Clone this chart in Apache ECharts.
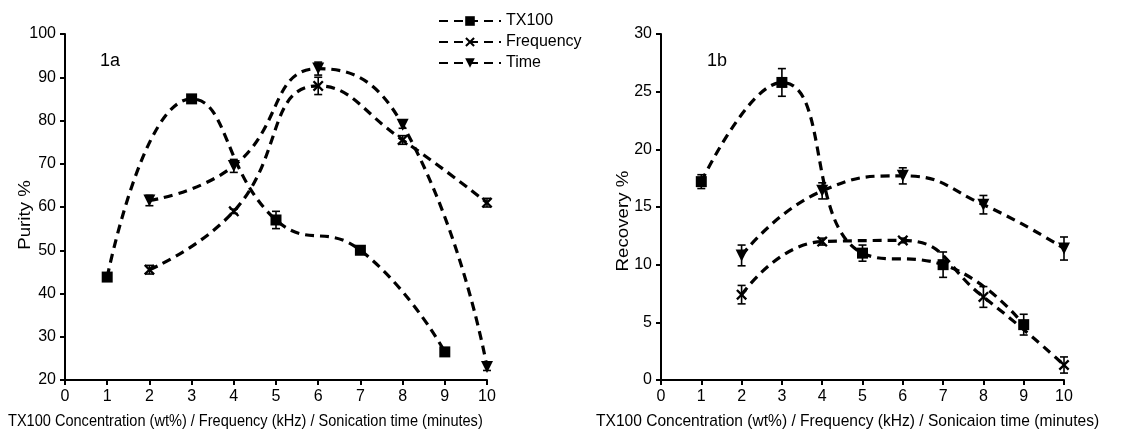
<!DOCTYPE html>
<html>
<head>
<meta charset="utf-8">
<script src="https://cdn.jsdelivr.net/npm/echarts@6/dist/echarts.min.js"></script>
<style>
  html, body { margin: 0; padding: 0; background: #fff; }
  #chart { width: 1129px; height: 431px; }
</style>
</head>
<body>
<div id="chart"></div>
<script>
// x positions: TX100 uses odd values, frequency/time use even values
var xTX100 = [1, 3, 5, 7, 9]
var xOther = [2, 4, 6, 8, 10]

// 1a purity %
var purityTX100 = [43.8, 85, 57, 50, 26.5]
var purityTX100Err = [0.8, 0.5, 2, 0.8, 0.5]
var purityFreq = [45.5, 59, 88, 75.5, 61]
var purityFreqErr = [1, 0.5, 2, 1, 1]
var purityTime = [61.5, 69.5, 92, 79, 23]
var purityTimeErr = [1.2, 1.5, 1.5, 0.8, 0.8]

// 1b recovery %
var recTX100 = [17.2, 25.8, 11, 10, 4.8]
var recTX100Err = [0.6, 1.2, 0.7, 1.1, 0.9]
var recFreq = [7.4, 12, 12.1, 7.2, 1.3]
var recFreqErr = [0.8, 0.3, 0.2, 0.9, 0.7]
var recTime = [10.8, 16.4, 17.7, 15.2, 11.4]
var recTimeErr = [0.9, 0.7, 0.7, 0.8, 1.0]

var seriesNames = ['TX100', 'Frequency', 'Time']

var font = 'Liberation Sans'
var xSymbol = 'path://M0,1.5 L1.5,0 L5,3.5 L8.5,0 L10,1.5 L6.5,5 L10,8.5 L8.5,10 L5,6.5 L1.5,10 L0,8.5 L3.5,5 Z'

function pairs(xs, ys) {
  return xs.map((x, i) => [x, ys[i]])
}

function errData(xs, ys, es) {
  return xs.map((x, i) => [x, ys[i] - es[i], ys[i] + es[i]])
}

function renderErr(params, api) {
  var x = api.value(0)
  var top = api.coord([x, api.value(2)])
  var bot = api.coord([x, api.value(1)])
  var w = 4
  var style = { stroke: '#000', lineWidth: 1.6 }
  return {
    type: 'group',
    children: [
      { type: 'line', shape: { x1: top[0], y1: top[1], x2: bot[0], y2: bot[1] }, style: style },
      { type: 'line', shape: { x1: top[0] - w, y1: top[1], x2: top[0] + w, y2: top[1] }, style: style },
      { type: 'line', shape: { x1: bot[0] - w, y1: bot[1], x2: bot[0] + w, y2: bot[1] }, style: style }
    ]
  }
}

var markers = {
  TX100: { symbol: 'rect', symbolSize: 11, symbolRotate: 0 },
  Frequency: { symbol: xSymbol, symbolSize: 11, symbolRotate: 0 },
  Time: { symbol: 'triangle', symbolSize: 12, symbolRotate: 180 }
}

function lineSeries(name, idx, xs, ys) {
  return {
    name: name,
    type: 'line',
    xAxisIndex: idx,
    yAxisIndex: idx,
    smooth: 0.5,
    data: pairs(xs, ys),
    symbol: markers[name].symbol,
    symbolSize: markers[name].symbolSize,
    symbolRotate: markers[name].symbolRotate,
    itemStyle: { color: '#000' },
    lineStyle: { color: '#000', width: 3.2, type: [9, 6] },
    z: 3
  }
}

function errSeries(idx, xs, ys, es) {
  return {
    type: 'custom',
    xAxisIndex: idx,
    yAxisIndex: idx,
    renderItem: renderErr,
    data: errData(xs, ys, es),
    silent: true,
    z: 4
  }
}

var axisLine = { show: true, lineStyle: { color: '#000', width: 2 } }
var axisTick = { show: true, length: 5, lineStyle: { color: '#000', width: 2 } }
var axisLabel = { color: '#000', fontFamily: font, fontSize: 16 }

function xAxis(idx) {
  return {
    type: 'value',
    gridIndex: idx,
    min: 0,
    max: 10,
    interval: 1,
    axisLine: axisLine,
    axisTick: axisTick,
    axisLabel: Object.assign({ margin: 9 }, axisLabel),
    splitLine: { show: false }
  }
}

function yAxis(idx, min, max, step) {
  return {
    type: 'value',
    gridIndex: idx,
    min: min,
    max: max,
    interval: step,
    axisLine: axisLine,
    axisTick: axisTick,
    axisLabel: Object.assign({ margin: 9 }, axisLabel),
    splitLine: { show: false }
  }
}

// axis titles and panel labels as plain text elements
function title(text, x, y, opts) {
  return Object.assign({
    type: 'text',
    x: x,
    y: y,
    silent: true,
    style: { text: text, fill: '#000', font: '17px "Liberation Sans"', align: 'left', verticalAlign: 'middle' }
  }, opts)
}

var chart = echarts.init(document.getElementById('chart'), null, { renderer: 'canvas' })

var option = {
  backgroundColor: '#fff',
  animation: false,
  grid: [
    { left: 65, top: 34, width: 422, height: 346, containLabel: false, outerBoundsMode: 'none' },
    { left: 661, top: 34, width: 403, height: 346, containLabel: false, outerBoundsMode: 'none' }
  ],
  legend: {
    orient: 'vertical',
    left: 433,
    top: 8,
    itemWidth: 62,
    itemHeight: 12,
    itemGap: 5,
    data: seriesNames,
    textStyle: { color: '#000', fontFamily: font, fontSize: 16 }
  },
  graphic: [
    title('1a', 100, 61, { style: { text: '1a', fill: '#000', font: '18px "Liberation Sans"', verticalAlign: 'middle' } }),
    title('1b', 707, 61, { style: { text: '1b', fill: '#000', font: '18px "Liberation Sans"', verticalAlign: 'middle' } }),
    title('TX100 Concentration (wt%) / Frequency (kHz) / Sonication time (minutes)', 8, 421, { scaleX: 0.856 }),
    title('TX100 Concentration (wt%) / Frequency (kHz) / Sonicaion time (minutes)', 596, 421, { scaleX: 0.915 }),
    title('Purity %', 25, 215, { rotation: Math.PI / 2, scaleX: 1.1,
      style: { text: 'Purity %', fill: '#000', font: '17px "Liberation Sans"', align: 'center', verticalAlign: 'middle' } }),
    title('Recovery %', 623, 221, { rotation: Math.PI / 2, scaleX: 1.1,
      style: { text: 'Recovery %', fill: '#000', font: '17px "Liberation Sans"', align: 'center', verticalAlign: 'middle' } })
  ],
  xAxis: [xAxis(0), xAxis(1)],
  yAxis: [yAxis(0, 20, 100, 10), yAxis(1, 0, 30, 5)],
  series: [
    lineSeries('TX100', 0, xTX100, purityTX100),
    lineSeries('Frequency', 0, xOther, purityFreq),
    lineSeries('Time', 0, xOther, purityTime),
    errSeries(0, xTX100, purityTX100, purityTX100Err),
    errSeries(0, xOther, purityFreq, purityFreqErr),
    errSeries(0, xOther, purityTime, purityTimeErr),
    lineSeries('TX100', 1, xTX100, recTX100),
    lineSeries('Frequency', 1, xOther, recFreq),
    lineSeries('Time', 1, xOther, recTime),
    errSeries(1, xTX100, recTX100, recTX100Err),
    errSeries(1, xOther, recFreq, recFreqErr),
    errSeries(1, xOther, recTime, recTimeErr)
  ]
}

chart.setOption(option)
</script>
</body>
</html>
